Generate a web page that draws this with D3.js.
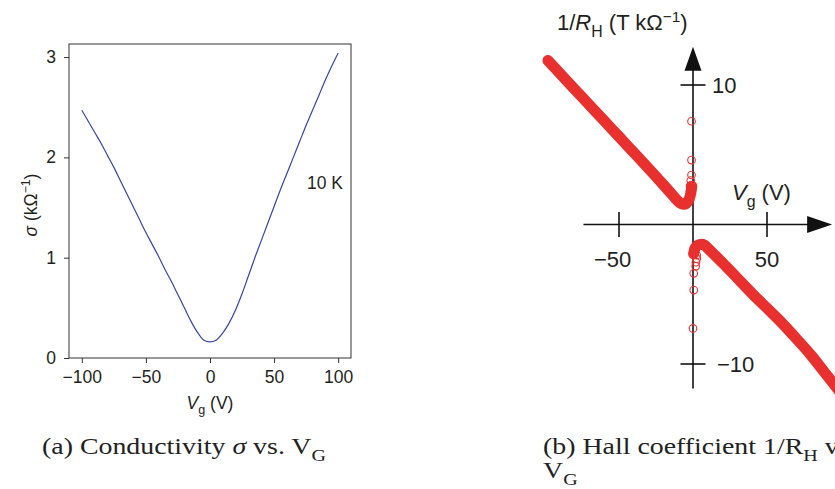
<!DOCTYPE html>
<html><head><meta charset="utf-8">
<script src="https://cdn.jsdelivr.net/npm/d3@7"></script>
<style>body{margin:0;background:#fff} svg{display:block}</style>
</head><body><svg id="c" width="835" height="489"></svg>
<script>
// ---------- Panel (a): conductivity vs gate voltage ----------
const vgA = [-100,-95,-90,-85,-80,-75,-70,-65,-60,-55,-50,-45,-40,-35,-30,-25,-20,-15,-10,-5,0,5,10,15,20,25,30,35,40,45,50,55,60,65,70,75,80,85,90,95,100];
const sigmaA = [2.47,2.36,2.25,2.14,2.02,1.90,1.77,1.64,1.51,1.38,1.25,1.13,1.01,0.88,0.76,0.63,0.50,0.37,0.26,0.18,0.16,0.18,0.25,0.35,0.48,0.64,0.82,1.00,1.17,1.34,1.51,1.68,1.84,2.00,2.16,2.32,2.47,2.62,2.77,2.91,3.04];
const xTicksA = [-100,-50,0,50,100];
const yTicksA = [0,1,2,3];
const tempLabel = "10 K";

// ---------- Panel (b): Hall coefficient 1/R_H vs gate voltage ----------
const vgHoles = [-98,-90,-80,-70,-60,-50,-40,-30,-20,-15,-12,-10,-8,-6,-4,-2.5,-1.5,-0.8];
const invRHoles = [11.75,10.84,9.70,8.57,7.43,6.30,5.16,4.02,2.85,2.25,1.88,1.66,1.50,1.45,1.58,1.85,2.25,2.75];
const vgElectrons = [0.4,1,2,4,6,8,10,15,20,30,40,50,60,70,80,90,100];
const invRElectrons = [-2.1,-1.8,-1.6,-1.45,-1.42,-1.5,-1.7,-2.22,-2.75,-3.85,-4.95,-6.0,-7.05,-8.2,-9.4,-10.75,-12.1];
const vgCircUp = [-1,-1,-1,-1.5,-2,-1.5,-1.2];
const invRCircUp = [7.4,4.62,3.55,3.15,2.75,2.5,2.3];
const vgCircDown = [2.5,2.5,2,1.8,0.5,0.5,0];
const invRCircDown = [-2.2,-2.45,-2.7,-3.0,-3.5,-4.7,-7.45];
const xTicksB = [-50,50];
const yTicksB = [10,-10];
const xAxisSpanB = [-74,94];
const yAxisSpanB = [-11.75,12.75];

const captionA = [{t:"(a) Conductivity "},{t:"σ",i:true},{t:" vs. V"},{t:"G",sub:true}];
const captionB1 = [{t:"(b) Hall coefficient 1/R"},{t:"H",sub:true},{t:" vs."}];
const captionB2 = [{t:"V"},{t:"G",sub:true}];

const svg = d3.select("#c");
const ink = "#231f20";
const sans = "Liberation Sans, Arial, sans-serif";

function rich(sel, parts, fs) {
  let shift = 0;
  parts.forEach(p => {
    const ts = sel.append("tspan").text(p.t);
    let target = 0, size = fs;
    if (p.sub) { target = fs*0.3; size = fs*0.72; }
    if (p.sup) { target = -fs*0.38; size = fs*0.7; }
    ts.attr("font-size", size).attr("dy", target - shift);
    if (p.i) ts.attr("font-style","italic");
    shift = target;
  });
  return sel;
}

// ---- Panel (a)
const xA = d3.scaleLinear([-110,110],[69,351]);
const yA = d3.scaleLinear([0,3.13],[358,44]);
const gA = svg.append("g");
const fsA = 17.5;

gA.append("rect").attr("x",xA(-110)).attr("y",yA(3.13))
  .attr("width",xA(110)-xA(-110)).attr("height",yA(0)-yA(3.13))
  .attr("fill","none").attr("stroke","#333").attr("stroke-width",1);

const fmt = d3.format("d");
const axB = gA.append("g").attr("transform",`translate(0,${yA(0)})`)
  .call(d3.axisBottom(xA).tickValues(xTicksA).tickFormat(fmt).tickSize(5).tickPadding(8));
const axL = gA.append("g").attr("transform",`translate(${xA(-110)},0)`)
  .call(d3.axisLeft(yA).tickValues(yTicksA).tickFormat(fmt).tickSize(5).tickPadding(8));
[axB,axL].forEach(a=>{
  a.select(".domain").remove();
  a.selectAll(".tick line").attr("stroke","#333");
  a.selectAll(".tick text").attr("font-family",sans)
   .attr("font-size",fsA).attr("fill",ink);
});

gA.append("path").datum(vgA.map((v,i)=>[v,sigmaA[i]]))
  .attr("fill","none").attr("stroke","#3446a8").attr("stroke-width",1.2)
  .attr("d", d3.line().x(d=>xA(d[0])).y(d=>yA(d[1])).curve(d3.curveMonotoneX));

gA.append("text").attr("x",307).attr("y",188.5)
  .attr("font-family",sans).attr("font-size",fsA)
  .attr("fill",ink).text(tempLabel);

rich(gA.append("text").attr("x",xA(0)).attr("y",409).attr("text-anchor","middle")
  .attr("font-family",sans).attr("fill",ink),
  [{t:"V",i:true},{t:"g",sub:true},{t:" (V)"}], fsA);

rich(gA.append("text").attr("transform",`translate(37,${(yA(0)+yA(3.13))/2+4}) rotate(-90)`)
  .attr("text-anchor","middle")
  .attr("font-family",sans).attr("fill",ink),
  [{t:"σ",i:true},{t:" (kΩ"},{t:"−1",sup:true},{t:")"}], fsA);

// ---- Panel (b)
const xB = d3.scaleLinear([-50,50],[619,767]);
const yB = d3.scaleLinear([-10,10],[364,85]);
const gB = svg.append("g");
const fsB = 22;
const tickHalf = 12.5;

gB.append("line").attr("x1",xB(xAxisSpanB[0])).attr("x2",xB(xAxisSpanB[1])-4)
  .attr("y1",yB(0)).attr("y2",yB(0)).attr("stroke","#111").attr("stroke-width",1.6);
gB.append("line").attr("x1",xB(0)).attr("x2",xB(0))
  .attr("y1",yB(yAxisSpanB[0])).attr("y2",yB(yAxisSpanB[1])+4).attr("stroke","#111").attr("stroke-width",1.6);
const xt = xB(xAxisSpanB[1]), yt = yB(yAxisSpanB[1]);
gB.append("path").attr("d",`M${xt},${yB(0)} L${xt-25},${yB(0)-8.5} L${xt-25},${yB(0)+8.5} Z`).attr("fill","#111");
gB.append("path").attr("d",`M${xB(0)},${yt} L${xB(0)-8.5},${yt+24} L${xB(0)+8.5},${yt+24} Z`).attr("fill","#111");

xTicksB.forEach(v=>{
  gB.append("line").attr("x1",xB(v)).attr("x2",xB(v)).attr("y1",yB(0)-tickHalf).attr("y2",yB(0)+tickHalf)
    .attr("stroke","#111").attr("stroke-width",1.6);
});
yTicksB.forEach(v=>{
  gB.append("line").attr("x1",xB(0)-tickHalf).attr("x2",xB(0)+tickHalf).attr("y1",yB(v)).attr("y2",yB(v))
    .attr("stroke","#111").attr("stroke-width",1.6);
});
xTicksB.forEach(v=>{
  const t = gB.append("text").attr("y",yB(0)+42).attr("font-family",sans)
    .attr("font-size",fsB).attr("fill",ink).attr("text-anchor","middle").text(fmt(v));
  const shift = v<0 ? -0.584*fsB/2 : 0;
  t.attr("x",xB(v)+shift);
});
yTicksB.forEach(v=>{
  gB.append("text").attr("x",xB(0)+(v<0?24:19)).attr("y",yB(v)+8).attr("font-family",sans)
    .attr("font-size",fsB).attr("fill",ink).text(fmt(v));
});

rich(gB.append("text").attr("x",732).attr("y",200)
  .attr("font-family",sans).attr("fill",ink),
  [{t:"V",i:true},{t:"g",sub:true},{t:" (V)"}], fsB);
rich(gB.append("text").attr("x",557).attr("y",30)
  .attr("font-family",sans).attr("fill",ink),
  [{t:"1/"},{t:"R",i:true},{t:"H",sub:true},{t:" (T kΩ"},{t:"−1",sup:true},{t:")"}], fsB);

const red = "#e8302f";
const lineB = d3.line().x(d=>xB(d[0])).y(d=>yB(d[1])).curve(d3.curveMonotoneX);
[[vgHoles,invRHoles],[vgElectrons,invRElectrons]].forEach(([xs,ys])=>{
  gB.append("path").datum(xs.map((v,i)=>[v,ys[i]]))
    .attr("fill","none").attr("stroke",red).attr("stroke-width",11)
    .attr("stroke-linecap","round").attr("stroke-linejoin","round")
    .attr("d", lineB);
});
const circs = vgCircUp.map((v,i)=>[v,invRCircUp[i]]).concat(vgCircDown.map((v,i)=>[v,invRCircDown[i]]));
gB.selectAll("circle.o").data(circs).join("circle").attr("class","o")
  .attr("cx",d=>xB(d[0])).attr("cy",d=>yB(d[1])).attr("r",3.8)
  .attr("fill","none").attr("stroke",red).attr("stroke-width",1.1);

// ---- Captions
const capFont = "Liberation Serif, Times New Roman, serif";
const fsC = 23;
const capA = rich(svg.append("text").attr("font-family",capFont).attr("fill","#222"), captionA, fsC);
const wA = capA.node().getBBox().width;
const sx = 284 / wA;
capA.attr("transform",`translate(42,454) scale(${sx},1)`);
rich(svg.append("text").attr("transform",`translate(543,454) scale(${sx},1)`).attr("font-family",capFont).attr("fill","#222"), captionB1, fsC);
rich(svg.append("text").attr("transform",`translate(543,478) scale(${sx},1)`).attr("font-family",capFont).attr("fill","#222"), captionB2, fsC);
</script></body></html>
